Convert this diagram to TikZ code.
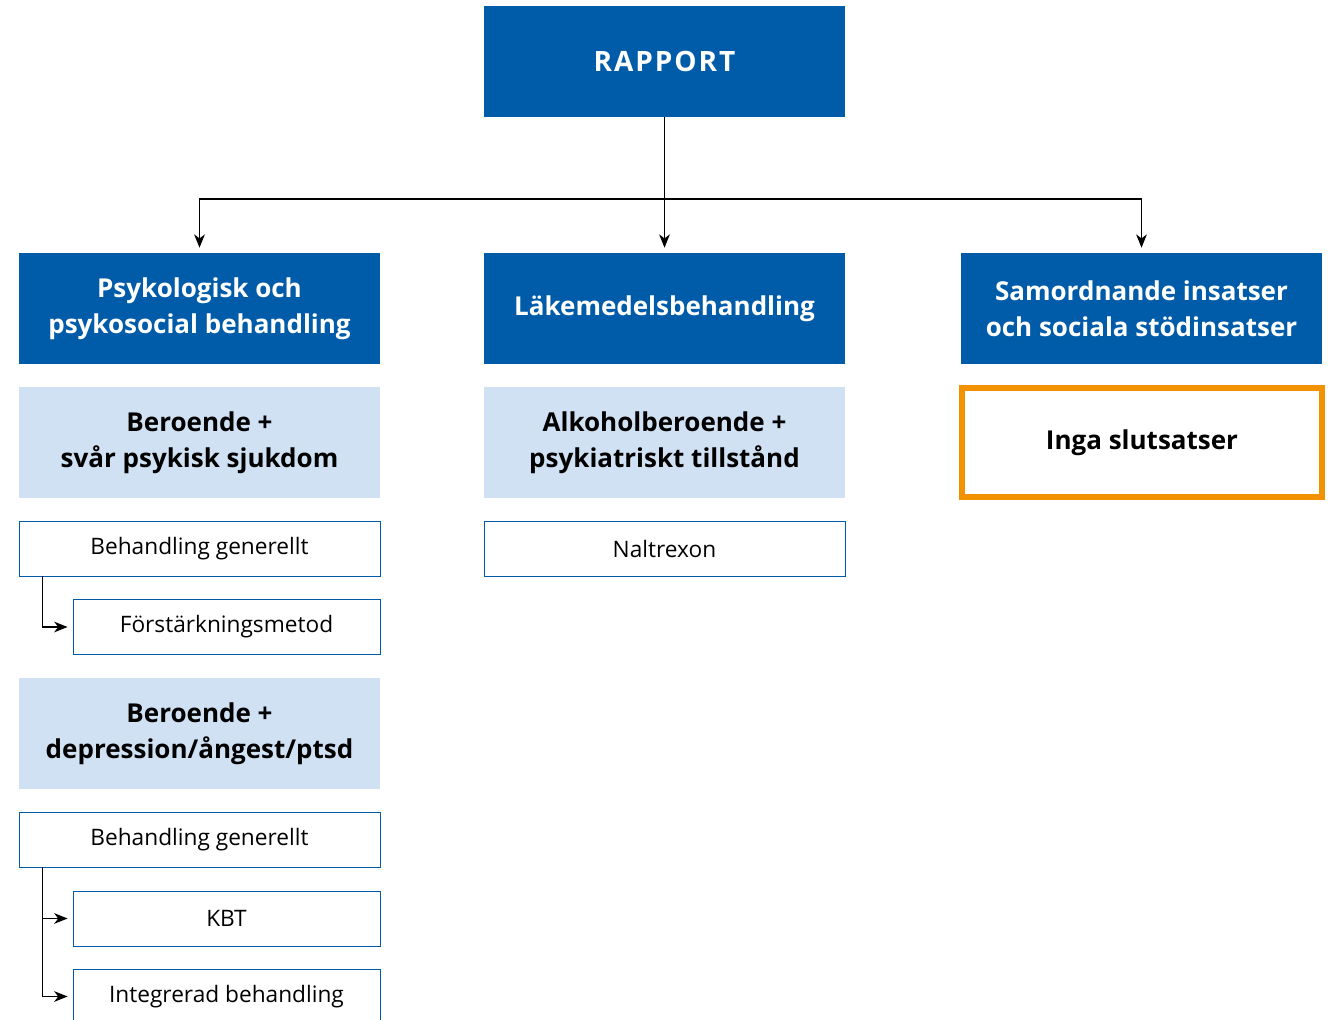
\documentclass[tikz,border=0pt]{standalone}
\usepackage{fontspec}
\setmainfont{Open Sans}
\usetikzlibrary{arrows.meta,calc}
\definecolor{dblue}{RGB}{0,92,169}
\definecolor{lblue}{RGB}{208,225,244}
\definecolor{bordblue}{RGB}{0,92,169}
\definecolor{orng}{RGB}{243,146,0}
\begin{document}
\begin{tikzpicture}[x=0.75pt,y=-0.75pt,
  hdr/.style={fill=dblue,text=white,minimum width=270.75pt,minimum height=83.25pt,inner sep=0pt,align=center,font=\fontsize{19.5pt}{27pt}\selectfont\bfseries},
  sub/.style={fill=lblue,text=black,minimum width=270.75pt,minimum height=83.25pt,inner sep=0pt,align=center,font=\fontsize{19.5pt}{27pt}\selectfont\bfseries},
  leaf/.style={draw=bordblue,line width=0.7pt,fill=white,text=black,minimum height=41.25pt,inner sep=0pt,align=center,font=\fontsize{17pt}{22pt}\selectfont},
  wide/.style={minimum width=270.75pt},
  narrow/.style={minimum width=230.25pt},
  conn/.style={draw=black,line width=0.9pt,-{Stealth[length=10pt,width=8pt,inset=3pt]},shorten >=3.75pt}
]
\clip (0,0) rectangle (1335,1020);
\fill[white] (0,0) rectangle (1335,1020);

\node[hdr,font=\fontsize{21pt}{27pt}\selectfont\bfseries\addfontfeature{LetterSpace=7}] (rap) at (664.5,61.5) {RAPPORT};
\node[hdr] (psy) at (199.5,308.5) {Psykologisk och\\psykosocial behandling};
\node[hdr] (lak) at (664.5,308.5) {Läkemedelsbehandling};
\node[hdr] (sam) at (1141.5,308.5) {Samordnande insatser\\och sociala stödinsatser};

\node[sub] (ber1) at (199.5,442.5) {Beroende +\\svår psykisk sjukdom};
\node[sub] (alk) at (664.5,442.5) {Alkoholberoende +\\psykiatriskt tillstånd};
\node[draw=orng,line width=4.5pt,fill=white,minimum width=270pt,minimum height=81.75pt,inner sep=0pt,font=\fontsize{19.5pt}{27pt}\selectfont\bfseries] (inga) at (1142,442.5) {Inga slutsatser};
\node[sub] (ber2) at (199.5,733.5) {Beroende +\\depression/ångest/ptsd};

\node[leaf,wide] (bg1) at (199.5,548.5) {Behandling generellt};
\node[leaf,narrow] (for) at (226.5,627) {Förstärkningsmetod};
\node[leaf,wide] (nal) at (664.5,548.5) {Naltrexon};
\node[leaf,wide] (bg2) at (199.5,839.5) {Behandling generellt};
\node[leaf,narrow] (kbt) at (226.5,918.5) {KBT};
\node[leaf,narrow] (int) at (226.5,996.5) {Integrerad behandling};

\coordinate (j) at (664.5,199);
\draw[conn] (rap.south) -- (lak.north);
\draw[conn] (j) -| (psy.north);
\draw[conn] (j) -| (sam.north);

\draw[conn] ([xshift=18pt]bg1.south west) |- (for.west);
\draw[conn] ([xshift=18pt]bg2.south west) |- (kbt.west);
\draw[conn] ([xshift=18pt]bg2.south west) |- (int.west);
\end{tikzpicture}
\end{document}
